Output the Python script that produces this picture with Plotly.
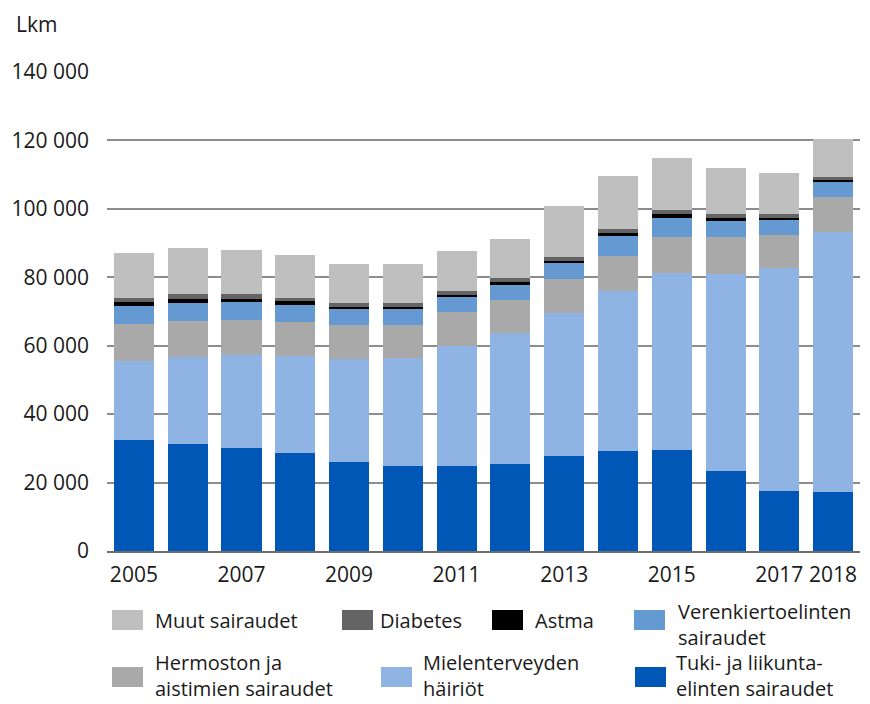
import plotly.graph_objects as go

years = [str(y) for y in range(2005, 2019)]
tick_years = ["2005", "2007", "2009", "2011", "2013", "2015", "2017", "2018"]

tuki = [32.4, 31.3, 30.1, 28.6, 26.0, 24.8, 24.8, 25.4, 27.8, 29.2, 29.5, 23.4, 17.5, 17.2]
mielen = [23.1, 25.4, 27.2, 28.5, 30.1, 31.7, 35.2, 38.3, 41.9, 46.8, 51.8, 57.6, 65.3, 76.1]
hermo = [10.8, 10.5, 10.2, 9.8, 10.0, 9.6, 9.9, 9.7, 9.8, 10.2, 10.5, 10.8, 9.6, 10.2]
veren = [5.3, 5.3, 5.3, 5.0, 4.6, 4.6, 4.3, 4.3, 4.7, 5.9, 5.5, 4.6, 4.6, 4.4]
astma = [1.2, 1.2, 0.9, 1.2, 0.6, 0.6, 0.6, 0.9, 0.6, 0.8, 1.2, 0.9, 0.3, 0.5]
diabetes = [1.1, 1.4, 1.4, 0.8, 1.2, 1.2, 1.2, 1.2, 1.1, 1.2, 1.2, 1.2, 1.2, 0.9]
muut = [13.2, 13.5, 12.9, 12.6, 11.4, 11.4, 11.7, 11.4, 14.9, 15.5, 15.2, 13.5, 12.0, 11.1]

series_names = [
    "Tuki- ja liikunta-<br>elinten sairaudet",
    "Mielenterveyden<br>häiriöt",
    "Hermoston ja<br>aistimien sairaudet",
    "Verenkiertoelinten<br>sairaudet",
    "Astma",
    "Diabetes",
    "Muut sairaudet",
]
series_values = [tuki, mielen, hermo, veren, astma, diabetes, muut]
series_colors = ["#0057B5", "#8FB3E2", "#A9A9A9", "#6499D2", "#000000", "#646464", "#BFBFBF"]

FONT = "Open Sans"
FS = 21
LFS = 20
TXT = "#1a1a1a"
OFF = 8  # page body margin
W, H = 870 - OFF, 704 - OFF
L, R, T, B = 107 - OFF, 10, 72 - OFF, 704 - 551
pw, ph = W - L - R, H - T - B

fig = go.Figure()
for name, vals, col in zip(series_names, series_values, series_colors):
    fig.add_trace(go.Bar(x=years, y=[v * 1000 for v in vals], name=name.replace("<br>", " "),
                         marker=dict(color=col, line=dict(width=0)), showlegend=False))

def px(x):
    return (x - OFF - L) / pw
def py(y):
    return (H - B - (y - OFF)) / ph

# custom legend (screen pixels): (series index, swatch x, swatch top y, text x, text block centre y)
legend_layout = [
    (6, 112, 610, 154, 620), (5, 342, 610, 379, 620), (4, 492, 610, 534, 620),
    (3, 634, 610, 677, 624),
    (2, 112, 667, 154, 675), (1, 381, 667, 422, 675), (0, 635, 667, 675, 675),
]
shapes = []
annotations = []
for idx, sx, sy, tx, ty in legend_layout:
    shapes.append(dict(type="rect", xref="paper", yref="paper",
                       x0=px(sx), x1=px(sx + 31), y0=py(sy + 20), y1=py(sy),
                       fillcolor=series_colors[idx], line=dict(width=0)))
    annotations.append(dict(xref="paper", yref="paper", x=px(tx), y=py(ty),
                            xanchor="left", yanchor="middle", align="left",
                            text=series_names[idx], showarrow=False, borderpad=0,
                            font=dict(family=FONT, size=LFS, color=TXT)))
annotations.append(dict(xref="paper", yref="paper", x=px(14), y=py(OFF), xanchor="left",
                        yanchor="top", text="Lkm", showarrow=False,
                        font=dict(family=FONT, size=FS, color=TXT)))

fig.update_layout(
    barmode="stack", bargap=0.255,
    width=W, height=H,
    margin=dict(l=L, r=R, t=T, b=B, autoexpand=False),
    plot_bgcolor="white", paper_bgcolor="white",
    separators=", ",
    font=dict(family=FONT, size=FS, color=TXT),
    shapes=shapes, annotations=annotations,
    xaxis=dict(tickmode="array", tickvals=tick_years, ticktext=tick_years,
               showgrid=False, ticks="", showline=True, linecolor="#6e6e6e", linewidth=1.5,
               tickfont=dict(size=FS), ticklabelstandoff=4),
    yaxis=dict(range=[0, 140000], tickvals=list(range(0, 140001, 20000)), tickformat=",d",
               showgrid=True, gridcolor="#8c8c8c", gridwidth=1.5, zeroline=False,
               ticks="", ticklabelstandoff=17, tickfont=dict(size=FS)),
)
fig.write_html("out.html")
